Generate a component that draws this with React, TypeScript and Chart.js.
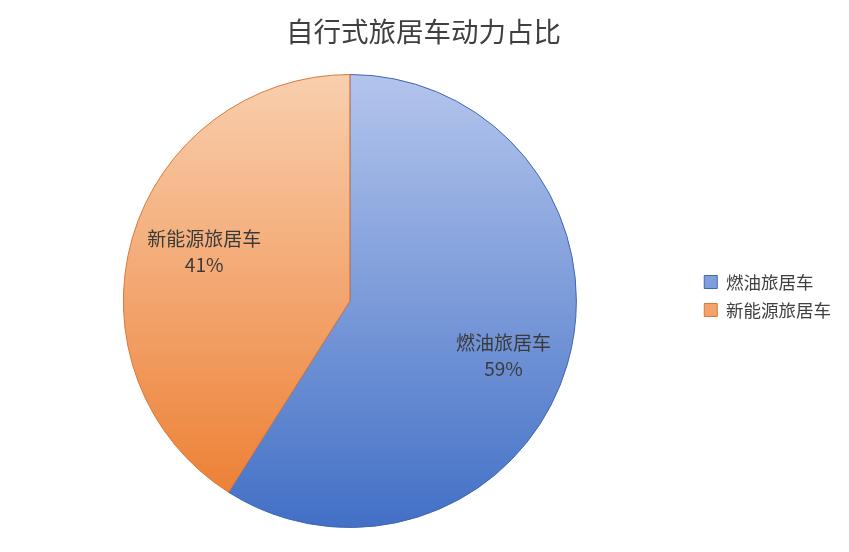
import { Chart, registerables } from "chart.js";
import { useEffect, useRef } from "react";

Chart.register(...registerables);

const FONT = "'Noto Sans CJK SC', 'Noto Sans', sans-serif";

export const categories = ["燃油旅居车", "新能源旅居车"];
export const shares = [59, 41];
// gradient stops per slice: light at top, saturated at bottom
const topColors = ["#b4c5ec", "#f9cfae"];
const bottomColors = ["#4270c6", "#ec7a2c"];
const borderColors = ["#3f66b4", "#d9783a"];

// text labels inside the slices
const sliceLabels = {
    id: "sliceLabels",
    afterLayout(chart: any) {
        // nudge the legend a little upward, like the original
        if (chart.legend) {
            chart.legend.top -= 5;
            chart.legend.bottom -= 5;
        }
    },
    afterDatasetsDraw(chart: any) {
        const ctx = chart.ctx;
        const meta = chart.getDatasetMeta(0);
        const total = shares.reduce((a, b) => a + b, 0);
        const factors = [0.706, 0.67];
        const shift = [10, -7];
        meta.data.forEach((arc: any, i: number) => {
            const p = arc.getProps(["x", "y", "startAngle", "endAngle", "outerRadius"], true);
            const mid = (p.startAngle + p.endAngle) / 2;
            const r = p.outerRadius * factors[i];
            const x = p.x + Math.cos(mid) * r;
            const y = p.y + Math.sin(mid) * r + shift[i];
            ctx.save();
            ctx.fillStyle = "#3a3a3a";
            ctx.font = `19px ${FONT}`;
            ctx.textAlign = "center";
            ctx.textBaseline = "middle";
            ctx.fillText(categories[i], x, y - 12.5);
            ctx.fillText(Math.round((shares[i] / total) * 100) + "%", x, y + 13);
            ctx.restore();
        });
    },
};

function gradientFor(chart: any, i: number) {
    const area = chart.chartArea;
    if (!area) return topColors[i];
    const g = chart.ctx.createLinearGradient(0, area.top, 0, area.bottom);
    g.addColorStop(0, topColors[i]);
    g.addColorStop(1, bottomColors[i]);
    return g;
}

export default function App() {
    const chartRef = useRef<Chart | null>(null);
    const canvasRef = useRef<HTMLCanvasElement | null>(null);

    useEffect(() => {
        chartRef.current = new Chart(canvasRef.current!, {
            type: "pie",
            data: {
                labels: categories,
                datasets: [
                    {
                        data: shares,
                        backgroundColor: (c: any) => gradientFor(c.chart, c.dataIndex),
                        borderColor: borderColors,
                        borderWidth: 1,
                    },
                ],
            },
            options: {
                animation: false,
                responsive: true,
                maintainAspectRatio: false,
                layout: { padding: { left: 6, right: 8, top: 0, bottom: 24 } },
                plugins: {
                    title: {
                        display: true,
                        text: "自行式旅居车动力占比",
                        color: "#404040",
                        font: { family: FONT, size: 27.5, weight: "normal" },
                        padding: { top: 15, bottom: 26 },
                    },
                    legend: {
                        position: "right",
                        fullSize: false,
                        labels: {
                            color: "#404040",
                            font: { family: FONT, size: 17.5 },
                            boxWidth: 13,
                            boxHeight: 13,
                            padding: 10.5,
                        },
                    },
                    tooltip: { enabled: false },
                },
            },
            plugins: [sliceLabels],
        });

        return () => chartRef.current?.destroy();
    }, []);

    return (
        <div style={{ position: "fixed", left: 0, top: 0, width: 849, height: 552, background: "#fff" }}>
            <canvas ref={canvasRef} />
        </div>
    );
}
